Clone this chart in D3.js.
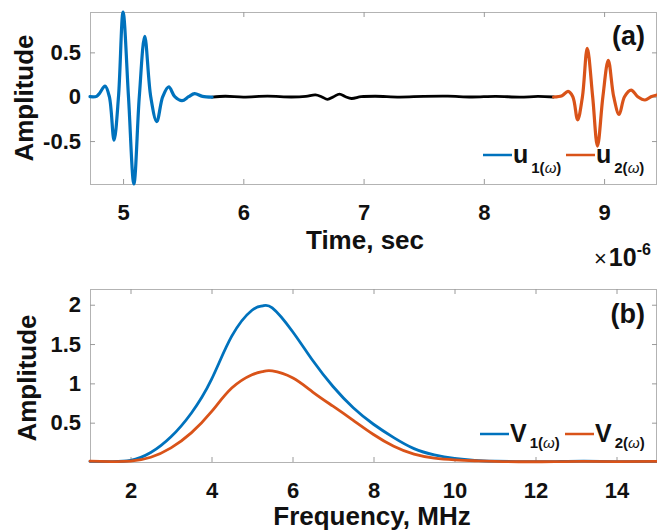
<!DOCTYPE html>
<html>
<head>
<meta charset="utf-8">
<script src="https://cdn.jsdelivr.net/npm/d3@7"></script>
<style>
  html, body { margin: 0; padding: 0; background: #fff; }
  svg { display: block; font-family: "Liberation Sans", Arial, sans-serif; }
  .tick text { font-weight: bold; fill: #111; }
</style>
</head>
<body>
<svg id="chart" width="657" height="532"></svg>
<script>
// ---- Panel (a): time-domain signals, time in microseconds (axis scaled by 1e-6) ----
const incidentTime = [4.725, 4.78, 4.805, 4.85, 4.886, 4.925, 4.962, 5.0, 5.045, 5.09, 5.135, 5.18, 5.23, 5.28, 5.33, 5.38, 5.43, 5.49, 5.545, 5.595, 5.66, 5.74];
const incidentAmp  = [0, 0.004, 0.04, 0.12, 0, -0.49, 0, 0.955, 0, -0.984, 0, 0.68, 0, -0.28, 0, 0.11, 0, -0.045, 0, 0.035, 0.004, -0.004];

const gapTime = [5.74, 5.85, 6.0, 6.2, 6.4, 6.52, 6.6, 6.65, 6.70, 6.75, 6.80, 6.85, 6.90, 6.98, 7.1, 7.3, 7.5, 7.7, 7.9, 8.1, 8.3, 8.45, 8.58];
const gapAmp  = [-0.004, 0.005, -0.004, 0.006, -0.003, 0.004, 0.02, 0, -0.03, 0, 0.03, 0, -0.02, 0, 0.005, -0.004, 0.004, 0.006, -0.003, 0.004, -0.005, 0.003, -0.003];

const transmittedTime = [8.58, 8.65, 8.70, 8.74, 8.78, 8.82, 8.86, 8.905, 8.945, 8.99, 9.035, 9.08, 9.125, 9.17, 9.225, 9.28, 9.34, 9.39, 9.44];
const transmittedAmp  = [-0.003, 0.01, 0.06, 0, -0.26, 0, 0.545, 0, -0.556, 0, 0.41, 0, -0.2, 0, 0.075, 0, -0.037, 0, 0.02];

const timeTicks = [5, 6, 7, 8, 9];
const ampTicksA = [-0.5, 0, 0.5];

// ---- Panel (b): amplitude spectra ----
const freq      = [1.0, 1.5, 2.0, 2.5, 3.0, 3.5, 4.0, 4.5, 5.0, 5.26, 5.5, 6.0, 6.5, 7.0, 7.5, 8.0, 8.5, 9.0, 9.5, 10.0, 10.5, 11.0, 11.8, 12.5, 13.2, 14.0, 15.0];
const spectrum1 = [0.008, 0.005, 0.02, 0.12, 0.32, 0.62, 1.05, 1.6, 1.93, 1.985, 1.96, 1.66, 1.29, 0.96, 0.69, 0.48, 0.31, 0.17, 0.09, 0.045, 0.02, 0.01, 0.004, 0.006, 0.01, 0.006, 0.008];
const spectrum2 = [0.01, 0.005, 0.01, 0.06, 0.18, 0.37, 0.64, 0.94, 1.11, 1.15, 1.158, 1.07, 0.89, 0.71, 0.53, 0.35, 0.2, 0.1, 0.05, 0.028, 0.016, 0.009, 0.003, 0.006, 0.009, 0.005, 0.008];

const freqTicks = [2, 4, 6, 8, 10, 12, 14];
const ampTicksB = [0.5, 1, 1.5, 2];

const BLUE = "#0072BD", ORANGE = "#D95319", BLACK = "#000000";

const svg = d3.select("#chart");

function panel(box, xDomain, yDomain, xTicks, yTicks) {
  const x = d3.scaleLinear().domain(xDomain).range([box.left, box.right]);
  const y = d3.scaleLinear().domain(yDomain).range([box.bottom, box.top]);
  const g = svg.append("g");

  // frame
  g.append("rect")
    .attr("x", box.left + 0.5).attr("y", box.top + 0.5)
    .attr("width", box.right - box.left - 1).attr("height", box.bottom - box.top)
    .attr("fill", "none").attr("stroke", "#b3b3b3").attr("stroke-width", 1);

  const tickLen = 5;
  const axB = d3.axisBottom(x).tickValues(xTicks).tickSize(-tickLen).tickPadding(20).tickFormat(d3.format("d"));
  const axT = d3.axisTop(x).tickValues(xTicks).tickSize(-tickLen).tickFormat("");
  const axL = d3.axisLeft(y).tickValues(yTicks).tickSize(-tickLen).tickPadding(9).tickFormat(d => d === 0 ? "0" : String(d));
  const axR = d3.axisRight(y).tickValues(yTicks).tickSize(-tickLen).tickFormat("");

  const styleAxis = sel => {
    sel.select(".domain").remove();
    sel.selectAll(".tick line").attr("stroke", "#9a9a9a");
    sel.selectAll(".tick text").style("font-size", "22px");
  };
  g.append("g").attr("transform", `translate(0,${box.bottom})`).call(axB).call(styleAxis);
  g.append("g").attr("transform", `translate(0,${box.top})`).call(axT).call(styleAxis);
  g.append("g").attr("transform", `translate(${box.left},0)`).call(axL).call(styleAxis);
  g.append("g").attr("transform", `translate(${box.right},0)`).call(axR).call(styleAxis);

  g.selectAll(".tick text").attr("font-family", "Liberation Sans, Arial, sans-serif");
  return { x, y, g };
}

function drawLine(p, xs, ys, color, width, curve) {
  const pts = xs.map((v, i) => [v, ys[i]]);
  p.g.append("path")
    .datum(pts)
    .attr("fill", "none")
    .attr("stroke", color)
    .attr("stroke-width", width)
    .attr("stroke-linejoin", "round")
    .attr("stroke-linecap", "round")
    .attr("d", d3.line().x(d => p.x(d[0])).y(d => p.y(d[1])).curve(curve));
}

function yLabel(text, cx, cy) {
  svg.append("text")
    .attr("transform", `translate(${cx},${cy}) rotate(-90)`)
    .attr("text-anchor", "middle")
    .attr("font-weight", "bold").attr("font-size", 26).attr("fill", "#111")
    .text(text);
}

function legendEntry(x0, yLine, color, letter, sub, subDy) {
  svg.append("line")
    .attr("x1", x0).attr("x2", x0 + 29).attr("y1", yLine).attr("y2", yLine)
    .attr("stroke", color).attr("stroke-width", 2.5);
  const t = svg.append("text").attr("x", x0 + 30).attr("y", yLine + 8)
    .attr("font-weight", "bold").attr("fill", "#111");
  t.append("tspan").attr("font-size", 25).text(letter);
  t.append("tspan").attr("font-size", 15).attr("dx", 3).attr("dy", subDy).text(sub + "(");
  t.append("tspan").attr("font-size", 15).attr("font-style", "italic").attr("font-weight", "normal").text("ω");
  t.append("tspan").attr("font-size", 15).text(")");
}

const waveCurve = d3.curveCatmullRom.alpha(0.5);

// ----- Panel (a) -----
const boxA = { left: 90, right: 657, top: 12, bottom: 184 };
const pa = panel(boxA, [4.725, 9.44], [-0.984, 0.955], timeTicks, ampTicksA);
drawLine(pa, gapTime, gapAmp, BLACK, 2.8, waveCurve);
drawLine(pa, incidentTime, incidentAmp, BLUE, 3.2, waveCurve);
drawLine(pa, transmittedTime, transmittedAmp, ORANGE, 3.2, waveCurve);

yLabel("Amplitude", 33, 98);
svg.append("text").attr("x", 365).attr("y", 249).attr("text-anchor", "middle")
  .attr("font-weight", "bold").attr("font-size", 26).attr("fill", "#111").text("Time, sec");

// exponent for the time axis
const ex = svg.append("text").attr("x", 594).attr("y", 266).attr("fill", "#111");
ex.append("tspan").attr("font-size", 22).text("×");
ex.append("tspan").attr("font-size", 25).attr("font-weight", "bold").attr("dx", 2).text("10");
ex.append("tspan").attr("font-size", 16).attr("font-weight", "bold").attr("dy", -11).text("-6");

svg.append("text").attr("x", 645).attr("y", 45).attr("text-anchor", "end")
  .attr("font-weight", "bold").attr("font-size", 27).attr("fill", "#111").text("(a)");

legendEntry(483, 155, BLUE, "u", "1", 10);
legendEntry(566, 155, ORANGE, "u", "2", 10);

// ----- Panel (b) -----
const boxB = { left: 90, right: 657, top: 289, bottom: 462 };
const pb = panel(boxB, [1, 15], [0, 2.2], freqTicks, ampTicksB);
drawLine(pb, freq, spectrum1, BLUE, 2.8, d3.curveNatural);
drawLine(pb, freq, spectrum2, ORANGE, 2.8, d3.curveNatural);

yLabel("Amplitude", 36, 378);
svg.append("text").attr("x", 372).attr("y", 525).attr("text-anchor", "middle")
  .attr("font-weight", "bold").attr("font-size", 26).attr("fill", "#111").text("Frequency, MHz");

svg.append("text").attr("x", 645).attr("y", 323).attr("text-anchor", "end")
  .attr("font-weight", "bold").attr("font-size", 27).attr("fill", "#111").text("(b)");

legendEntry(480, 434, BLUE, "V", "1", 6);
legendEntry(565, 434, ORANGE, "V", "2", 6);
</script>
</body>
</html>
